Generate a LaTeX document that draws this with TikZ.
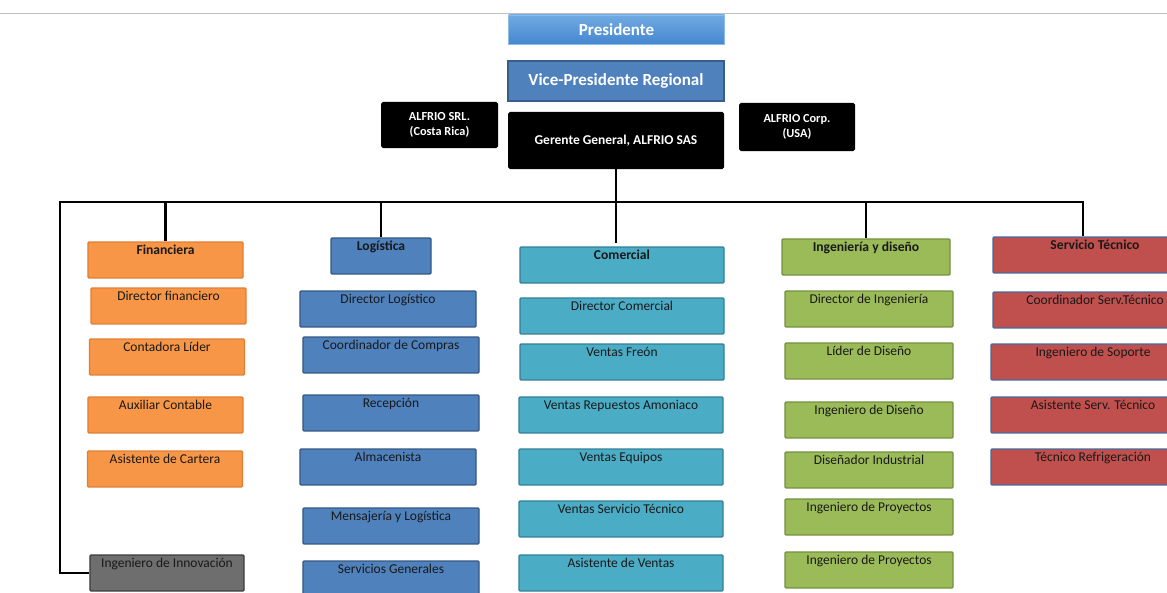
\documentclass[tikz,border=0pt]{standalone}
\usepackage{fontspec}
\setmainfont{Carlito}
\usepackage{tikz}
\usetikzlibrary{positioning,calc}
\definecolor{presTop}{RGB}{112,170,226}
\definecolor{presBot}{RGB}{70,135,208}
\definecolor{vpFill}{RGB}{79,129,189}
\definecolor{vpLine}{RGB}{56,93,138}
\definecolor{finFill}{RGB}{247,150,70}
\definecolor{finLine}{RGB}{226,126,52}
\definecolor{logFill}{RGB}{79,129,189}
\definecolor{logLine}{RGB}{52,88,132}
\definecolor{comFill}{RGB}{75,172,198}
\definecolor{comLine}{RGB}{49,128,150}
\definecolor{ingFill}{RGB}{155,187,89}
\definecolor{ingLine}{RGB}{116,144,62}
\definecolor{serFill}{RGB}{192,80,77}
\definecolor{serLine}{RGB}{72,104,156}
\definecolor{innoFill}{RGB}{110,110,110}
\definecolor{innoLine}{RGB}{60,60,60}

\begin{document}
\begin{tikzpicture}[
  x=0.03cm,y=-0.03cm,
  top/.style={minimum width=6.48cm, text=white,
    font=\fontsize{14.5}{17}\selectfont\bfseries},
  firm/.style={fill=black, rounded corners=1.5pt, text=white, align=center,
    font=\fontsize{10.5}{12.5}\selectfont\bfseries},
  cell/.style={draw, line width=1.2pt, rounded corners=1pt, inner xsep=2pt,
    inner ysep=2pt, text height=9pt, text depth=17.7pt, text=black!90,
    font=\fontsize{11.5}{13.5}\selectfont},
  head/.style={font=\fontsize{11.6}{13.5}\selectfont\bfseries},
  fincell/.style={cell, fill=finFill, draw=finLine, minimum width=4.65cm},
  logcell/.style={cell, fill=logFill, draw=logLine, minimum width=5.28cm},
  comcell/.style={cell, fill=comFill, draw=comLine, minimum width=6.12cm},
  ingcell/.style={cell, fill=ingFill, draw=ingLine, minimum width=5.04cm},
  sercell/.style={cell, fill=serFill, draw=serLine, minimum width=6.12cm},
  innocell/.style={cell, fill=innoFill, draw=innoLine, minimum width=4.62cm},
  wire/.style={line width=2pt, draw=black}
]
  \useasboundingbox (0,0) rectangle (1167,593);
  \clip (0,0) rectangle (1167,593);
  \draw[black!25, line width=0.8pt] (0,13) -- (1167,13);

  \node[top, top color=presTop, bottom color=presBot, draw=presTop!80!white,
    line width=0.5pt, minimum height=0.87cm] (pres) at (616.5,29.5) {Presidente};
  \node[top, fill=vpFill, draw=vpLine, line width=1.5pt,
    minimum height=1.2cm] (vp) at (616,81) {Vice-Presidente Regional};
  \node[firm, font=\fontsize{11.5}{13.5}\selectfont\bfseries,
    minimum width=6.48cm, minimum height=1.71cm] (ger) at (616,140.5)
    {Gerente General, ALFRIO SAS};
  \node[firm, minimum width=3.51cm, minimum height=1.38cm] (srl) at (439.5,125)
    {ALFRIO SRL.\\(Costa Rica)};
  \node[firm, minimum width=3.48cm, minimum height=1.44cm] (corp) at (797,127)
    {ALFRIO Corp.\\(USA)};

  \node[fincell, head] (fin) at (165.5,260) {Financiera};
  \node[fincell] (fdir) at (168.5,306) {Director financiero};
  \node[fincell] (fcont) at (167,357) {Contadora Líder};
  \node[fincell] (faux) at (165.5,415) {Auxiliar Contable};
  \node[fincell] (fcar) at (165,469) {Asistente de Cartera};
  \node[innocell] (inno) at (167,573) {Ingeniero de Innovación};

  \node[logcell, head, minimum width=3cm] (log) at (381,256) {Logística};
  \node[logcell] (ldir) at (388,309) {Director Logístico};
  \node[logcell] (lcomp) at (391,355) {Coordinador de Compras};
  \node[logcell] (lrec) at (391,413) {Recepción};
  \node[logcell] (lalm) at (388,467) {Almacenista};
  \node[logcell] (lmen) at (391,526) {Mensajería y Logística};
  \node[logcell] (lser) at (391,579) {Servicios Generales};

  \node[comcell, head] (com) at (622,265) {Comercial};
  \node[comcell] (cdir) at (622,316) {Director Comercial};
  \node[comcell] (cfre) at (622,362) {Ventas Freón};
  \node[comcell] (crep) at (621,415) {Ventas Repuestos Amoniaco};
  \node[comcell] (cequ) at (621,467) {Ventas Equipos};
  \node[comcell] (cser) at (621,519) {Ventas Servicio Técnico};
  \node[comcell] (cast) at (621,573) {Asistente de Ventas};

  \node[ingcell, head] (ing) at (866,257) {Ingeniería y diseño};
  \node[ingcell] (idir) at (869,309) {Director de Ingeniería};
  \node[ingcell] (ilid) at (869,361) {Líder de Diseño};
  \node[ingcell] (iing) at (869,420) {Ingeniero de Diseño};
  \node[ingcell] (idis) at (869,470) {Diseñador Industrial};
  \node[ingcell] (ipro) at (869,517) {Ingeniero de Proyectos};
  \node[ingcell] (ipro2) at (869,570) {Ingeniero de Proyectos};

  \node[sercell, head] (serv) at (1095,255) {Servicio Técnico};
  \node[sercell] (scoo) at (1095,310) {Coordinador Serv.Técnico};
  \node[sercell] (ssop) at (1093,362) {Ingeniero de Soporte};
  \node[sercell] (sasi) at (1093,415) {Asistente Serv. Técnico};
  \node[sercell] (stec) at (1093,467) {Técnico Refrigeración};

  \coordinate (busL) at (60,202);
  \coordinate (busR) at (1083,202);
  \draw[wire, shorten >=3pt] (ger.south) -- (ger.south |- com.north);
  \draw[wire] (inno.west) -| (busL) -| (busR |- serv.north);
  \draw[wire] (fin.north) -- (fin.north |- busL);
  \draw[wire] (log.north) -- (log.north |- busL);
  \draw[wire] (ing.north) -- (ing.north |- busL);
\end{tikzpicture}
\end{document}
